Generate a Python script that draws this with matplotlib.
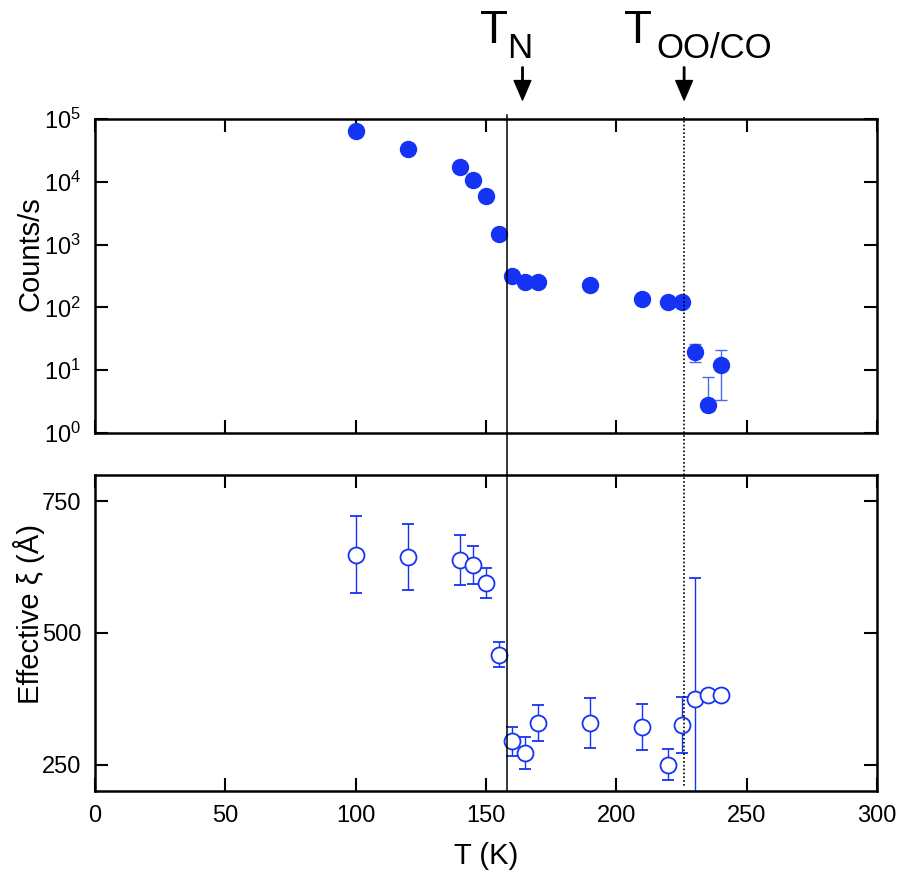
import matplotlib
matplotlib.use("Agg")
import matplotlib.pyplot as plt
from matplotlib.lines import Line2D
from matplotlib.ticker import LogLocator, NullLocator
import matplotlib.transforms as mtransforms

plt.rcParams['font.family'] = ['Liberation Sans', 'DejaVu Sans']
plt.rcParams['mathtext.fontset'] = 'custom'
plt.rcParams['mathtext.rm'] = 'Liberation Sans'
plt.rcParams['mathtext.default'] = 'regular'

# temperatures (K)
temps = [100, 120, 140, 145, 150, 155, 160, 165, 170, 190, 210, 220, 225, 230, 235, 240]

# top panel: counts/s
counts = [65000, 32900, 17400, 10800, 6000, 1480, 322, 255, 255, 226, 134, 123, 123, 19.6, 2.82, 12.1]
counts_lo = [0, 0, 0, 0, 0, 0, 0, 0, 0, 0, 0, 0, 0, 6.1, 0.6, 8.7]
counts_hi = [0, 0, 0, 0, 0, 0, 0, 0, 0, 0, 0, 0, 0, 6.5, 5.0, 8.8]

# bottom panel: effective correlation length (A)
xi = [649, 644, 639, 629, 595, 459, 294, 272, 329, 329, 321, 250, 325, 375, 382, 382]
xi_err = [73, 63, 47, 36, 29, 24.5, 27.7, 30.5, 35, 47.7, 44, 29, 53, 229, 0, 0]

# transition temperatures
t_n_line = 158
t_oo_line = 226
t_n_arrow = 164
t_oo_arrow = 226

blue = '#1433f5'

fig = plt.figure(figsize=(9.17, 8.74), dpi=100)
ax1 = fig.add_axes([0.1036, 0.5046, 0.8528, 0.3592])
ax2 = fig.add_axes([0.1036, 0.0950, 0.8528, 0.3615])

# top panel
ax1.errorbar(temps, counts, yerr=[counts_lo, counts_hi], fmt='o', color=blue,
             ms=11.5, mec=blue, mfc=blue, ecolor='#4a68f5', elinewidth=1.0,
             capsize=4.6, capthick=1.0)
ax1.set_yscale('log')
ax1.set_ylim(1, 1e5)
ax1.yaxis.set_major_locator(LogLocator(base=10, numticks=10))
ax1.yaxis.set_minor_locator(NullLocator())
ax1.set_ylabel('Counts/s', fontsize=21)
ax1.yaxis.set_label_coords(-0.064, 0.57)
ax1.tick_params(labelbottom=False)

# bottom panel
ax2.errorbar(temps, xi, yerr=xi_err, fmt='o', color=blue, ms=11.5, mec=blue,
             mfc='white', mew=1.3, ecolor=blue, elinewidth=1.0,
             capsize=4.6, capthick=1.0)
ax2.set_ylim(200, 800)
ax2.set_yticks([250, 500, 750])
ax2.set_ylabel('Effective ξ (Å)', fontsize=21)
ax2.yaxis.set_label_coords(-0.064, 0.56)
ax2.set_xlabel('T (K)', fontsize=21, labelpad=11)

for ax in (ax1, ax2):
    ax.set_xlim(0, 300)
    ax.set_xticks([0, 50, 100, 150, 200, 250, 300])
    ax.tick_params(direction='in', length=9.5, width=1.5, top=True, right=True,
                   labelsize=17, pad=10)
    for sp in ax.spines.values():
        sp.set_linewidth(1.8)

# vertical marker lines through both panels
trans = mtransforms.blended_transform_factory(ax1.transData, fig.transFigure)
fig.add_artist(Line2D([t_n_line, t_n_line], [1 - 115 / 874, 1 - 791 / 874],
                      transform=trans, color='black', lw=1.1))
fig.add_artist(Line2D([t_oo_line, t_oo_line], [1 - 117 / 874, 1 - 786 / 874],
                      transform=trans, color='black', lw=1.2, ls=(0, (1, 1.3))))

# arrows and labels
for t in (t_n_arrow, t_oo_arrow):
    ax1.annotate('', xy=(t, 1 - 100 / 874), xytext=(t, 1 - 67 / 874),
                 xycoords=trans, textcoords=trans,
                 arrowprops=dict(facecolor='black', edgecolor='black', width=1.0,
                                 headwidth=12, headlength=14, shrink=0))

fig.text(480 / 917, 1 - 43 / 874, 'T', fontsize=33, ha='left', va='baseline')
fig.text(507 / 917, 1 - 58 / 874, 'N', fontsize=25, ha='left', va='baseline')
fig.text(624 / 917, 1 - 43 / 874, 'T', fontsize=33, ha='left', va='baseline')
fig.text(656 / 917, 1 - 58 / 874, 'OO/CO', fontsize=25, ha='left', va='baseline')

fig.savefig('out.png', dpi=100)
